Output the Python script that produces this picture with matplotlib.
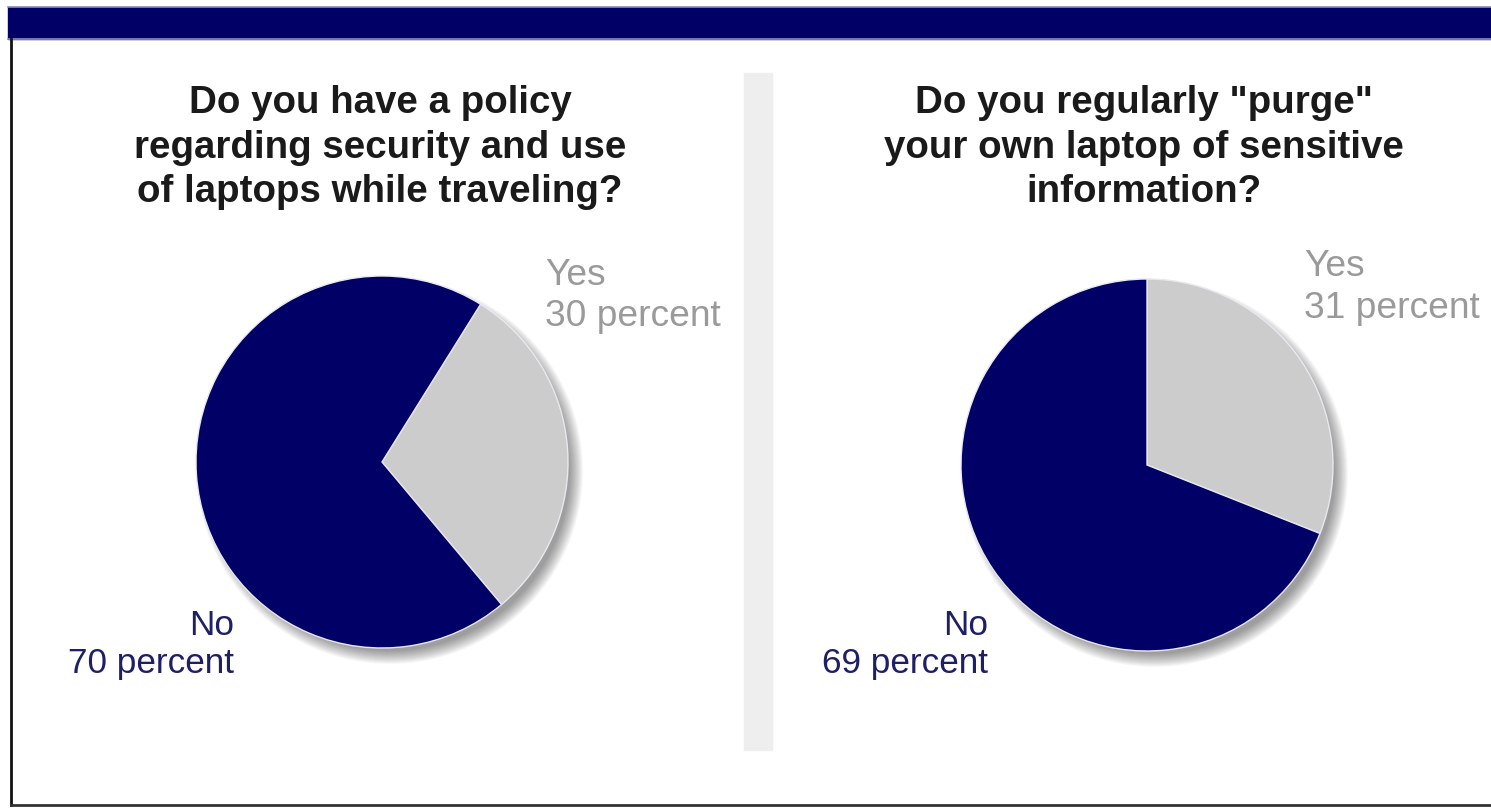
import matplotlib
matplotlib.use("Agg")
import matplotlib.pyplot as plt
from matplotlib.patches import Rectangle, Circle

W, H = 1491, 808

# ---- data ----
titles = [
    ["Do you have a policy", "regarding security and use", "of laptops while traveling?"],
    ["Do you regularly \"purge\"", "your own laptop of sensitive", "information?"],
]
categories = ["Yes", "No"]
values_policy = [30, 70]
values_purge = [31, 69]
series = [values_policy, values_purge]

NAVY = "#000066"
GRAY = "#cccccc"
YES_TXT = "#9a9a9a"
NO_TXT = "#1f1f66"

plt.rcParams['font.family'] = ['Liberation Sans', 'DejaVu Sans']

fig = plt.figure(figsize=(W / 100, H / 100), dpi=100)
ax = fig.add_axes([0, 0, 1, 1])
ax.set_xlim(0, W)
ax.set_ylim(0, H)
ax.axis("off")

def Y(py):
    return H - py

# header bar
ax.add_patch(Rectangle((8, Y(39)), W - 8, 32, color=NAVY, zorder=1))
ax.plot([8, W], [Y(7), Y(7)], color="#9090c0", lw=1.2, zorder=2)
ax.plot([8, W], [Y(39), Y(39)], color="#9090c0", lw=1.2, zorder=2)
# frame lines
ax.plot([11, 11], [Y(39), Y(805)], color="#111111", lw=2, zorder=2)
ax.plot([11, W], [Y(805), Y(805)], color="#333333", lw=2, zorder=2)
# separator
ax.add_patch(Rectangle((744, Y(750)), 28, 677, color="#eeeeee", zorder=1))

centers = [(382, Y(462)), (1147, Y(465))]
radii = [186, 186]
startangles = [58, 90]

for i, vals in enumerate(series):
    cx, cy = centers[i]
    r = radii[i]
    # soft shadow
    for k in range(14):
        ax.add_patch(Circle((cx + 8, cy - 9), r + 7 - k * 1.0, color="black",
                            alpha=0.03, lw=0, zorder=3))
    wedges, _ = ax.pie(vals, colors=[GRAY, NAVY], startangle=startangles[i],
                       counterclock=False, center=(cx, cy), radius=r,
                       wedgeprops=dict(edgecolor="#e8e8f0", linewidth=1.0),
                       frame=True)
    for w in wedges:
        w.set_zorder(5)

ax.set_xlim(0, W)
ax.set_ylim(0, H)
ax.set_aspect("auto")
ax.axis("off")

# titles
title_x = [380, 1144]
baselines = [113, 158, 202]
for i, lines in enumerate(titles):
    for line, b in zip(lines, baselines):
        ax.text(title_x[i], Y(b), line, ha="center", va="baseline",
                fontsize=27.7, fontweight="bold", color="#1a1a1a", zorder=6)

# labels
yes_pos = [(545, 285, 326), (1304, 276, 318)]
no_pos = [(234, 635, 673), (988, 635, 673)]
for i, vals in enumerate(series):
    x, b1, b2 = yes_pos[i]
    ax.text(x, Y(b1), categories[0], ha="left", va="baseline", fontsize=26.7, color=YES_TXT, zorder=6)
    ax.text(x, Y(b2), f"{vals[0]} percent", ha="left", va="baseline", fontsize=26.7, color=YES_TXT, zorder=6)
    x, b1, b2 = no_pos[i]
    ax.text(x, Y(b1), categories[1], ha="right", va="baseline", fontsize=25.3, color=NO_TXT, zorder=6)
    ax.text(x, Y(b2), f"{vals[1]} percent", ha="right", va="baseline", fontsize=25.3, color=NO_TXT, zorder=6)

fig.savefig("out.png", dpi=100, facecolor="white")
